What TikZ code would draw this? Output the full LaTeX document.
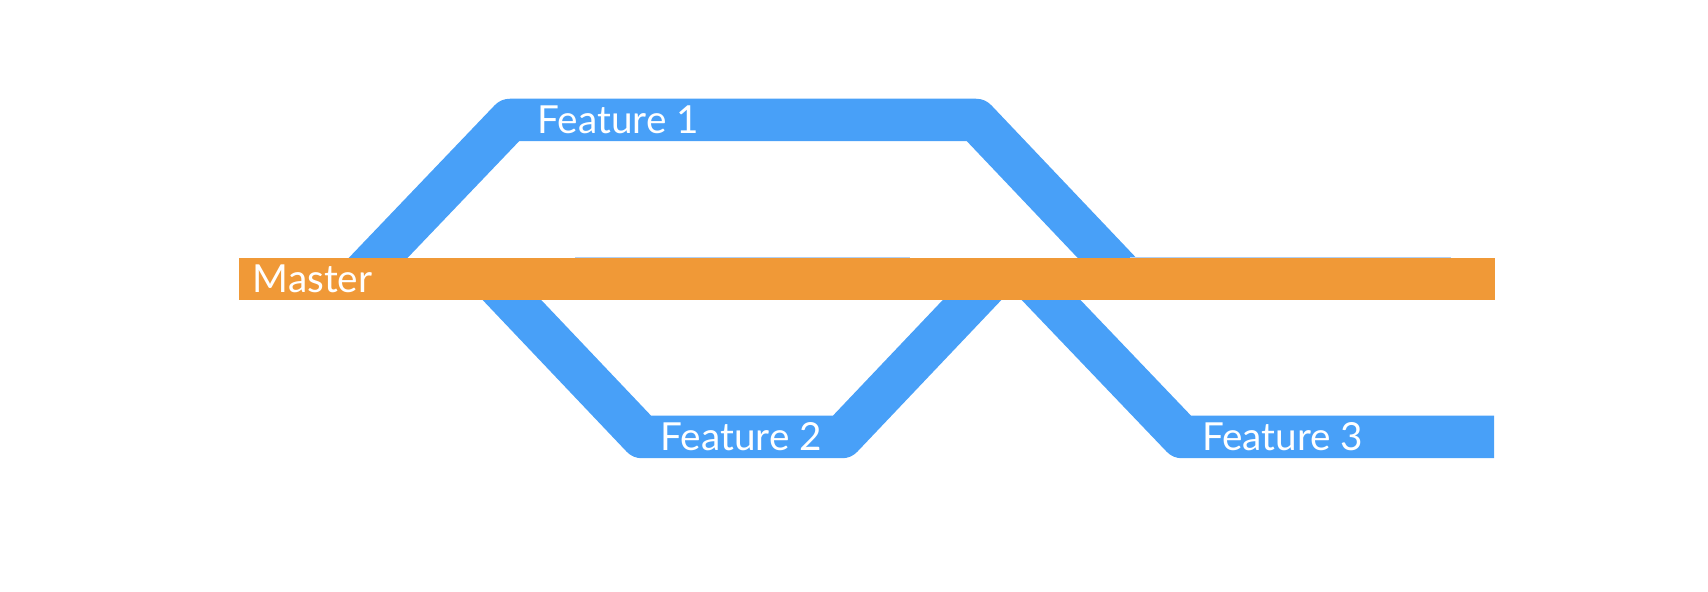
\documentclass[tikz,border=0pt]{standalone}
\usepackage{fontspec}
\setmainfont{Lato}
\usetikzlibrary{positioning}
\definecolor{branchblue}{RGB}{72,160,248}
\definecolor{masterorange}{RGB}{240,153,55}
\definecolor{edgeblue}{RGB}{176,208,244}

\begin{document}
\begin{tikzpicture}[
    font=\fontsize{11}{13}\selectfont,
    branch/.style={draw=branchblue, line width=0.425cm, line join=round},
    trunk/.style={fill=masterorange, draw=none, inner sep=0pt, minimum height=0.425cm},
    lbl/.style={text=white, anchor=base west, inner sep=0pt}
]
\useasboundingbox (0,0) rectangle (17.08,5.92);

% Points where the branches leave and rejoin the master line
\coordinate (f1out) at (3.58,3.13);
\coordinate (f1up)  at (5.10,4.72);
\coordinate (f1dn)  at (9.76,4.72);
\coordinate (f1in)  at (11.27,3.13);
\coordinate (f2out) at (4.92,3.13);
\coordinate (f2lo)  at (6.42,1.55);
\coordinate (f2hi)  at (8.42,1.55);
\coordinate (f2in)  at (9.92,3.13);
\coordinate (f3out) at (10.31,3.13);
\coordinate (f3lo)  at (11.82,1.55);
\coordinate (f3end) at (14.94,1.55);

% Feature branches (under the master bar)
\draw[branch] (f1out) -- (f1up) -- (f1dn) -- (f1in);
\draw[branch] (f2out) -- (f2lo) -- (f2hi) -- (f2in);
\draw[branch] (f3out) -- (f3lo) -- (f3end);

% thin edge seen along the top of the bar
\draw[edgeblue, line width=0.5pt] (5.75,3.345) -- (9.10,3.345);
\draw[edgeblue, line width=0.5pt] (11.30,3.345) -- (14.51,3.345);

% Master bar
\node[trunk, minimum width=12.56cm, anchor=west] (master) at (2.38,3.13) {};

% Labels
\node[lbl] (mlabel)  at (2.52,2.995) {Master};
\node[lbl] (f1label) at (5.37,4.585) {Feature 1};
\node[lbl] (f2label) at (6.60,1.415) {Feature 2};
\node[lbl] (f3label) at (12.015,1.415) {Feature 3};

\end{tikzpicture}
\end{document}
